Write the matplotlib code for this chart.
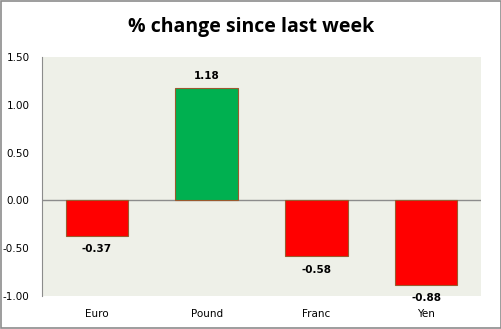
import matplotlib
matplotlib.use("Agg")
import matplotlib.pyplot as plt
from matplotlib.patches import Rectangle

categories = ["Euro", "Pound", "Franc", "Yen"]
values = [-0.37, 1.18, -0.58, -0.88]
yticks = [-1.0, -0.5, 0.0, 0.5, 1.0, 1.5]

fig = plt.figure(figsize=(5.02, 3.29), dpi=100)
fig.patch.set_facecolor("white")
fig.patches.append(Rectangle((0.001, 0.002), 0.997, 0.995, transform=fig.transFigure,
                             fill=False, edgecolor="#8c8c8c", linewidth=1.2))

ax = fig.add_axes([0.084, 0.100, 0.874, 0.727])
ax.set_facecolor("#eef0e8")

colors = ["#00b050" if v > 0 else "#ff0000" for v in values]
x = range(len(categories))
ax.bar(x, values, width=0.57, color=colors, edgecolor="#9a5a2e", linewidth=0.8, zorder=3)
ax.axhline(0, color="#8c8c8c", linewidth=1, zorder=2)

for i, v in enumerate(values):
    if v > 0:
        ax.text(i, v + 0.07, f"{v:.2f}", ha="center", va="bottom", fontsize=7.5,
                fontweight="bold", zorder=4)
    else:
        ax.text(i, v - 0.09, f"{v:.2f}", ha="center", va="top", fontsize=7.5,
                fontweight="bold", zorder=4)

ax.set_xlim(-0.5, 3.5)
ax.set_ylim(-1.0, 1.5)
ax.set_yticks(yticks)
ax.set_yticklabels([f"{t:.2f}" for t in yticks], fontsize=7.5)
ax.set_xticks(list(x))
ax.set_xticklabels(categories, fontsize=7.5)
ax.tick_params(axis="both", length=0)
ax.tick_params(axis="x", pad=9)
ax.tick_params(axis="y", pad=9)
for side in ["top", "right", "bottom"]:
    ax.spines[side].set_visible(False)
ax.spines["left"].set_color("#8c8c8c")

fig.text(0.5, 0.918, "% change since last week", ha="center", va="center",
         fontsize=14, fontweight="bold", family="Open Sans")

fig.savefig("out.png", dpi=100)
